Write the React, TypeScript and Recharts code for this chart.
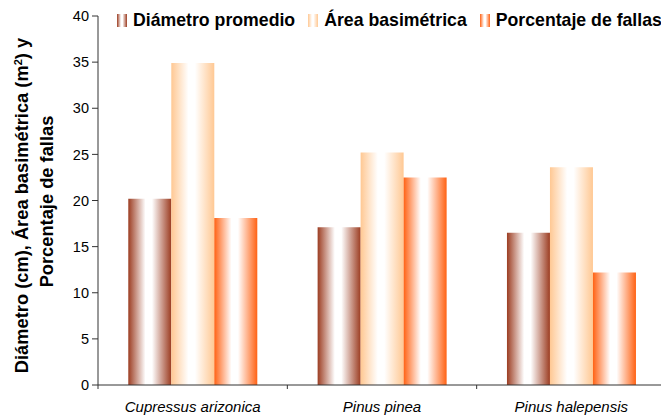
import React from 'react';
import { BarChart, Bar, XAxis, YAxis } from 'recharts';

const species = ['Cupressus arizonica', 'Pinus pinea', 'Pinus halepensis'];
const diametro = [20.2, 17.1, 16.5];
const area = [34.9, 25.2, 23.6];
const fallas = [18.1, 22.5, 12.2];
const yTicks = [0, 5, 10, 15, 20, 25, 30, 35, 40];

const series = [
  { key: 'diametro', name: 'Diámetro promedio', color: '#9c3d22', grad: 'gDiam' },
  { key: 'area', name: 'Área basimétrica', color: '#ffc893', grad: 'gArea' },
  { key: 'fallas', name: 'Porcentaje de fallas', color: '#ff6214', grad: 'gFallas' },
];

const data = species.map((s, i) => ({
  species: s,
  diametro: diametro[i],
  area: area[i],
  fallas: fallas[i],
}));

const FONT = '"Liberation Sans", Arial, sans-serif';
const CHART_W = 668;
const Y_AXIS_W = 98;
const MARGIN_R = 2;
const BAND = (CHART_W - Y_AXIS_W - MARGIN_R) / species.length;
const X_TICK_SIZE = 4;
const X_TICK_MARGIN = 12;

const YLabel = (props: any) => {
  const vb = props.viewBox || { x: 0, y: 16, width: 98, height: 369 };
  const cy = vb.y + vb.height / 2;
  return (
    <g fontFamily={FONT} fontWeight="bold" fontSize={18.3} fill="#000">
      <text x={28} y={cy + 5} transform={`rotate(-90, 28, ${cy + 5})`} textAnchor="middle">
        Diámetro (cm), Área basimétrica (m
        <tspan baselineShift="super" fontSize={11}>2</tspan>
        <tspan>) y</tspan>
      </text>
      <text x={53} y={cy + 1} transform={`rotate(-90, 53, ${cy + 1})`} textAnchor="middle">
        Porcentaje de fallas
      </text>
    </g>
  );
};

const XTick = (props: any) => {
  const { x, y, payload } = props;
  const axisY = y - X_TICK_SIZE - X_TICK_MARGIN;
  const bx = x - BAND / 2;
  return (
    <g>
      <line x1={bx} x2={bx} y1={axisY} y2={axisY + X_TICK_SIZE} stroke="#333" />
      <text
        x={x}
        y={y}
        dy="0.71em"
        textAnchor="middle"
        fontFamily={FONT}
        fontStyle="italic"
        fontSize={15}
        fill="#000"
      >
        {payload.value}
      </text>
    </g>
  );
};

const App: React.FC = () => {
  return (
    <div style={{ position: 'fixed', left: 0, top: 0, width: 661, height: 417, overflow: 'hidden', background: '#fff' }}>
      <BarChart
        width={CHART_W}
        height={417}
        data={data}
        margin={{ top: 16, right: MARGIN_R, left: 0, bottom: 2 }}
        barGap={0}
        barCategoryGap="16%"
      >
        <defs>
          {series.map(s => (
            <linearGradient key={s.grad} id={s.grad} x1="0" y1="0" x2="1" y2="0">
              <stop offset="0%" stopColor={s.color} />
              <stop offset="40%" stopColor="#ffffff" />
              <stop offset="55%" stopColor="#ffffff" />
              <stop offset="100%" stopColor={s.color} />
            </linearGradient>
          ))}
        </defs>
        <XAxis
          dataKey="species"
          height={30}
          stroke="#333"
          tickLine={{ stroke: 'none' }}
          tickSize={X_TICK_SIZE}
          tickMargin={X_TICK_MARGIN}
          interval={0}
          tick={<XTick />}
        />
        <YAxis
          width={Y_AXIS_W}
          domain={[0, 40]}
          ticks={yTicks}
          stroke="#333"
          tickSize={6}
          tickMargin={3}
          tick={{ fontSize: 14.5, fill: '#000', fontFamily: FONT }}
          label={{ content: YLabel }}
        />
        {series.map(s => (
          <Bar key={s.key} dataKey={s.key} name={s.name} fill={`url(#${s.grad})`} isAnimationActive={false} />
        ))}
      </BarChart>
      <div
        style={{
          position: 'absolute',
          left: 117,
          top: 11,
          display: 'flex',
          alignItems: 'center',
          fontFamily: FONT,
          fontWeight: 'bold',
          fontSize: 17.7,
          lineHeight: '18px',
          color: '#000',
          whiteSpace: 'nowrap',
        }}
      >
        {series.map(s => (
          <div key={s.key} style={{ display: 'flex', alignItems: 'center', marginRight: 13 }}>
            <span
              style={{
                display: 'inline-block',
                width: 10,
                height: 13,
                marginRight: 6,
                background: `linear-gradient(to right, ${s.color} 0%, #fff 40%, #fff 55%, ${s.color} 100%)`,
              }}
            />
            <span>{s.name}</span>
          </div>
        ))}
      </div>
    </div>
  );
};

export default App;
